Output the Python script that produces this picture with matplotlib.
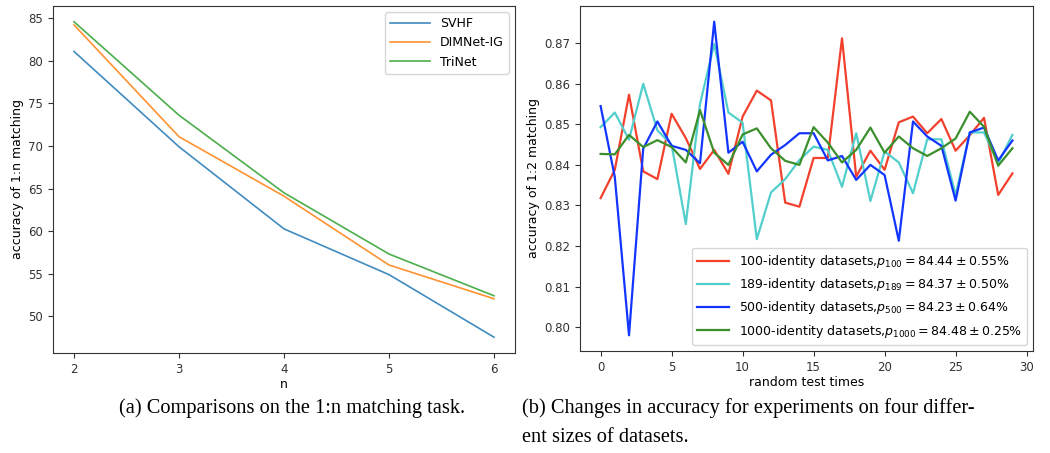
import numpy as np
import matplotlib
matplotlib.use('Agg')
import matplotlib.pyplot as plt

# (a) 1:n matching
n_values = [2, 3, 4, 5, 6]
svhf = [81.08, 69.9, 60.27, 54.9, 47.56]
dimnet_ig = [84.2, 71.08, 64.1, 56.03, 52.07]
trinet = [84.57, 73.6, 64.5, 57.32, 52.42]

# (b) 1:2 matching over 30 random test times
test_times = list(range(30))
acc_100 = [0.8318, 0.8388, 0.8573, 0.8384, 0.8365, 0.8526, 0.8466, 0.8390, 0.8437, 0.8378,
           0.8519, 0.8583, 0.8559, 0.8307, 0.8297, 0.8417, 0.8417, 0.8712, 0.8371, 0.8435,
           0.8388, 0.8505, 0.8519, 0.8478, 0.8513, 0.8435, 0.8473, 0.8516, 0.8326, 0.8379]
acc_189 = [0.8493, 0.8529, 0.8462, 0.8600, 0.8485, 0.8450, 0.8254, 0.8550, 0.8698, 0.8529,
           0.8504, 0.8217, 0.8332, 0.8365, 0.8412, 0.8445, 0.8437, 0.8346, 0.8478, 0.8311,
           0.8433, 0.8406, 0.8330, 0.8463, 0.8463, 0.8326, 0.8480, 0.8480, 0.8404, 0.8474]
acc_500 = [0.8545, 0.8370, 0.7980, 0.8440, 0.8507, 0.8447, 0.8437, 0.8404, 0.8753, 0.8430,
           0.8457, 0.8384, 0.8425, 0.8449, 0.8478, 0.8478, 0.8411, 0.8422, 0.8363, 0.8400,
           0.8375, 0.8213, 0.8507, 0.8470, 0.8447, 0.8312, 0.8480, 0.8492, 0.8411, 0.8460]
acc_1000 = [0.8427, 0.8426, 0.8474, 0.8444, 0.8461, 0.8444, 0.8406, 0.8535, 0.8430, 0.8400,
            0.8475, 0.8490, 0.8441, 0.8410, 0.8400, 0.8493, 0.8455, 0.8406, 0.8437, 0.8492,
            0.8430, 0.8470, 0.8441, 0.8422, 0.8441, 0.8465, 0.8531, 0.8494, 0.8398, 0.8441]

labels_b = [r'100-identity datasets,$p_{100} = 84.44 \pm 0.55\%$',
            r'189-identity datasets,$p_{189} = 84.37 \pm 0.50\%$',
            r'500-identity datasets,$p_{500} = 84.23 \pm 0.64\%$',
            r'1000-identity datasets,$p_{1000} = 84.48 \pm 0.25\%$']
colors_b = ['#f2402c', '#52cfcc', '#1236ff', '#3b8f2c']

caption_a = '(a) Comparisons on the 1:n matching task.'
caption_b1 = '(b) Changes in accuracy for experiments on four differ-'
caption_b2 = 'ent sizes of datasets.'

plt.rcParams['font.size'] = 8.5
plt.rcParams['axes.edgecolor'] = '#333333'

fig = plt.figure(figsize=(10.5, 4.53), dpi=100)

ax1 = fig.add_axes([0.0505, 0.2208, 0.44, 0.766])
ax1.plot(n_values, svhf, color='#1f77b4', alpha=0.85, lw=1.2, label='SVHF')
ax1.plot(n_values, dimnet_ig, color='#ff7f0e', alpha=0.85, lw=1.2, label='DIMNet-IG')
ax1.plot(n_values, trinet, color='#2ca02c', alpha=0.85, lw=1.2, label='TriNet')
ax1.set_xticks(n_values)
ax1.set_xlabel('n', fontsize=9, labelpad=2)
ax1.set_ylabel('accuracy of 1:n matching', fontsize=9, labelpad=3)
ax1.legend(loc='upper right', fontsize=9, handlelength=3.2)

ax2 = fig.add_axes([0.5524, 0.2252, 0.4314, 0.7616])
for acc, lab, col in zip([acc_100, acc_189, acc_500, acc_1000], labels_b, colors_b):
    ax2.plot(test_times, acc, color=col, lw=1.6, label=lab)
ax2.set_xlabel('random test times', fontsize=9, labelpad=2)
ax2.set_ylabel('accuracy of 1:2 matching', fontsize=9, labelpad=3)
ax2.legend(loc='lower right', fontsize=9, handlelength=2.5)

for ax in (ax1, ax2):
    ax.tick_params(colors='#333333', labelcolor='#333333')

cap_font = {'family': 'Liberation Serif', 'size': 14.7}
fig.text(0.2785, 0.099, caption_a, ha='center', va='center', fontdict=cap_font)
fig.text(0.497, 0.099, caption_b1, ha='left', va='center', fontdict=cap_font)
fig.text(0.497, 0.035, caption_b2, ha='left', va='center', fontdict=cap_font)

fig.savefig('out.png', dpi=100)
